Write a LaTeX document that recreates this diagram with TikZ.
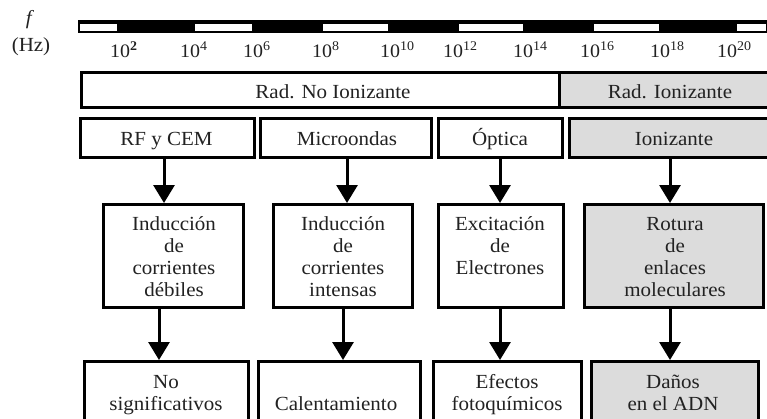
\documentclass[tikz,border=0pt]{standalone}
\usepackage{fontspec}
\setmainfont{Liberation Serif}[FakeStretch=1.05]
\usetikzlibrary{arrows.meta}
\definecolor{boxgray}{HTML}{DCDCDC}
\definecolor{txt}{HTML}{222222}
\tikzset{
  lbl/.style={font=\fontsize{20pt}{22pt}\selectfont, text=txt, inner sep=0pt},
  tick/.style={font=\fontsize{19pt}{22pt}\selectfont, text=txt, inner sep=0pt, anchor=base west},
  bx/.style={draw=black, line width=3pt, fill=white, inner sep=0pt},
  gbx/.style={bx, fill=boxgray},
  arr/.style={draw=black, line width=3pt, -{Triangle[length=18pt,width=21pt]}},
}
\begin{document}
\begin{tikzpicture}[x=1pt, y=-1pt]
\useasboundingbox (0,0) rectangle (767,418);
\clip (0,0) rectangle (767,418);
\fill[white] (0,0) rectangle (767,418);

% frequency bar
\fill[black] (78,20) rectangle (769,33);
\foreach \a/\b in {80/117, 195/252, 323/388, 459/523, 594/659, 737/766}
  \fill[white] (\a,23.5) rectangle (\b,30.5);

% axis labels
\node[lbl, anchor=base] (flab) at (30,24) {\textit{f}};
\node[lbl, anchor=base] (hz) at (31,51) {(Hz)};
\node[tick] (t2) at (110,57) {10\textsuperscript{\textbf{2}}};
\node[tick] (t4) at (180,57) {10\textsuperscript{4}};
\node[tick] (t6) at (243,57) {10\textsuperscript{6}};
\node[tick] (t8) at (312,57) {10\textsuperscript{8}};
\node[tick] (t10) at (380,57) {10\textsuperscript{10}};
\node[tick] (t12) at (443,57) {10\textsuperscript{12}};
\node[tick] (t14) at (513,57) {10\textsuperscript{14}};
\node[tick] (t16) at (580,57) {10\textsuperscript{16}};
\node[tick] (t18) at (650,57) {10\textsuperscript{18}};
\node[tick] (t20) at (717,57) {10\textsuperscript{20}};

% row 2
\node[bx, minimum width=478pt, minimum height=35pt] (r2a) at (320.5,90) {};
\node[gbx, minimum width=219pt, minimum height=35pt] (r2b) at (669,90) {};
\node[lbl, anchor=base] (l2a) at (333,98) {Rad. No Ionizante};
\node[lbl, anchor=base] (l2b) at (670,98) {Rad. Ionizante};

% row 3
\node[bx, minimum width=174pt, minimum height=39pt] (r3a) at (167.5,138) {};
\node[bx, minimum width=171pt, minimum height=39pt] (r3b) at (346,138) {};
\node[bx, minimum width=124pt, minimum height=39pt] (r3c) at (500.5,138) {};
\node[gbx, minimum width=209pt, minimum height=39pt] (r3d) at (674,138) {};
\node[lbl, anchor=base] (l3a) at (166.5,145) {RF y CEM};
\node[lbl, anchor=base] (l3b) at (347,145) {Microondas};
\node[lbl, anchor=base] (l3c) at (500,145) {Óptica};
\node[lbl, anchor=base] (l3d) at (674,145) {Ionizante};

% row 4
\node[bx, minimum width=140pt, minimum height=103pt] (r4a) at (173.5,256) {};
\node[bx, minimum width=139pt, minimum height=103pt] (r4b) at (343,256) {};
\node[bx, minimum width=125pt, minimum height=103pt] (r4c) at (501,256) {};
\node[gbx, minimum width=179pt, minimum height=103pt] (r4d) at (674,256) {};
\node[lbl, anchor=north, align=center] (l4a) at (174,215.3) {\strut Inducción\\de\\corrientes\\débiles};
\node[lbl, anchor=north, align=center] (l4b) at (343,215.3) {\strut Inducción\\de\\corrientes\\intensas};
\node[lbl, anchor=north, align=center] (l4c) at (500,215.3) {\strut Excitación\\de\\Electrones};
\node[lbl, anchor=north, align=center] (l4d) at (675,215.3) {\strut Rotura\\de\\enlaces\\moleculares};

% row 5
\node[bx, minimum width=164pt, minimum height=77pt] (r5a) at (166.5,400) {};
\node[bx, minimum width=162pt, minimum height=77pt] (r5b) at (339.5,400) {};
\node[bx, minimum width=148pt, minimum height=77pt] (r5c) at (507.5,400) {};
\node[gbx, minimum width=167pt, minimum height=77pt] (r5d) at (675,400) {};
\node[lbl, anchor=north, align=center] (l5a) at (166,372.6) {\strut No\\significativos};
\node[lbl, anchor=base] (l5b) at (336,410) {Calentamiento};
\node[lbl, anchor=north, align=center] (l5c) at (507,372.6) {\strut Efectos\\fotoquímicos};
\node[lbl, anchor=north, align=center] (l5d) at (673,372.6) {\strut Daños\\en el ADN};

% arrow x positions
\coordinate (xa) at (164,0);
\coordinate (xb) at (347,0);
\coordinate (xc) at (500,0);
\coordinate (xd) at (670,0);
\coordinate (ya) at (159,0);
\coordinate (yb) at (343,0);

% arrows
\draw[arr] (r3a.south -| xa) -- (r4a.north -| xa);
\draw[arr] (r3b.south -| xb) -- (r4b.north -| xb);
\draw[arr] (r3c.south -| xc) -- (r4c.north -| xc);
\draw[arr] (r3d.south -| xd) -- (r4d.north -| xd);
\draw[arr] (r4a.south -| ya) -- (r5a.north -| ya);
\draw[arr] (r4b.south -| yb) -- (r5b.north -| yb);
\draw[arr] (r4c.south -| xc) -- (r5c.north -| xc);
\draw[arr] (r4d.south -| xd) -- (r5d.north -| xd);
\end{tikzpicture}
\end{document}
